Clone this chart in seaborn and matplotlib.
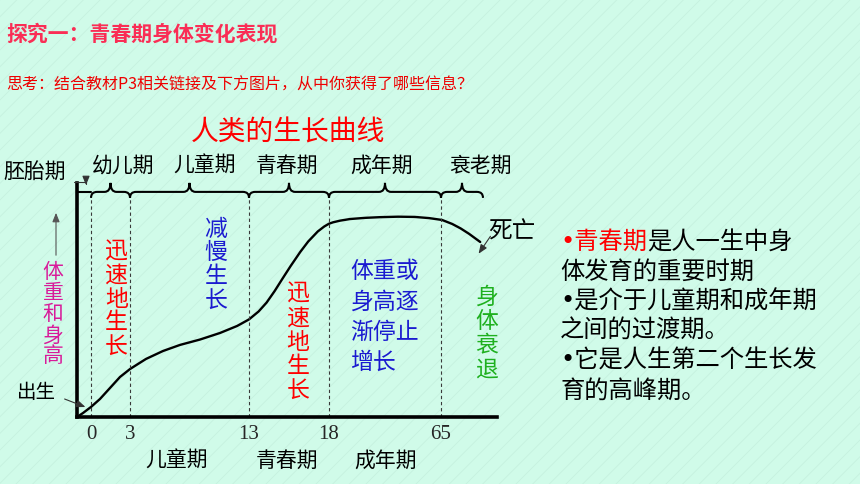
import numpy as np
import matplotlib
matplotlib.use("Agg")
import matplotlib.pyplot as plt
import seaborn as sns
from matplotlib.path import Path
from matplotlib.patches import PathPatch, Rectangle
from matplotlib.transforms import IdentityTransform

# ---- data ----
curve_age = [-1, -0.57, 0, 0.69, 1.46, 2.23, 3, 4.34, 5.77, 7.2, 8.88, 10.56, 12.0,
             13.0, 13.6, 14.1, 14.6, 15.1, 15.6, 16.2, 16.7, 17.3, 17.7, 18.0, 19.7,
             22.6, 26.8, 33.1, 39.4, 47, 54, 60, 65.4, 69, 72, 75, 79]
curve_growth = [0, 1.7, 4.3, 7.7, 12.4, 17.1, 20.5, 24.8, 28.2, 30.8, 33.1, 35.9,
                38.9, 41.7, 45.1, 48.9, 53.8, 59.2, 64.5, 70.5, 75.0, 79.3, 81.4,
                82.6, 83.2, 83.9, 84.6, 85.1, 85.4, 85.6, 85.5, 85, 84.2, 82.5,
                80.6, 78.3, 74.8]

tick_ages = [0, 3, 13, 18, 65]
tick_labels = ["0", "3", "13", "18", "65"]

stage_spans = [(0, 3), (3, 13), (13, 18), (18, 65), (65, 80)]
stage_names = ["幼儿期", "儿童期", "青春期", "成年期", "衰老期"]
bottom_stages = ["儿童期", "青春期", "成年期"]

notes = ["是人一生中身", "体发育的重要时期", "•是介于儿童期和成年期",
         "之间的过渡期。", "•它是人生第二个生长发", "育的高峰期。"]

# non-linear age axis (as in the drawing)
AGE_KNOTS = [-1, 0, 3, 13, 18, 65, 85]
POS_KNOTS = [0, 14, 53, 172, 252, 364, 420]


def fwd(a):
    return np.interp(a, AGE_KNOTS, POS_KNOTS)


def inv(p):
    return np.interp(p, POS_KNOTS, AGE_KNOTS)


sns.set_theme(style="white")
plt.rcParams['font.family'] = ['Noto Sans CJK SC', 'DejaVu Sans']
plt.rcParams['hatch.linewidth'] = 0.5
BULLET_FONT = ['DejaVu Sans', 'Noto Sans CJK SC']

W, H = 860, 484
BG = "#d0fbe9"
fig = plt.figure(figsize=(W / 100, H / 100), dpi=100)
fig.patch.set_facecolor(BG)
fig.patches.append(Rectangle((0, 0), 1, 1, transform=fig.transFigure, facecolor=BG,
                             edgecolor="#c4efdd", hatch="//", lw=0, zorder=-10))


def ftext(x, y, s, **kw):
    return fig.text(x / W, 1 - y / H, s, **kw)


def vtext(x, y0, pitch, s, color, size):
    for i, ch in enumerate(s):
        ftext(x, y0 + i * pitch, ch, ha="center", va="center", color=color, fontsize=size)


def farrow(x0, y0, x1, y1, **kw):
    props = dict(arrowstyle="-|>,head_length=0.45,head_width=0.18", color="#333333", lw=0.8)
    props.update(kw)
    ax.annotate("", xy=(x1 / W, 1 - y1 / H), xycoords="figure fraction",
                xytext=(x0 / W, 1 - y0 / H), textcoords="figure fraction",
                arrowprops=props, annotation_clip=False)


ax = fig.add_axes([77 / W, 1 - 417 / H, 420 / W, 234 / H])
ax.patch.set_alpha(0)
ax.set_xscale("function", functions=(fwd, inv))
ax.set_xlim(-1, 85)
ax.set_ylim(0, 100)

sns.lineplot(x=curve_age, y=curve_growth, color="black", lw=1.7, sort=False, ax=ax)
ax.vlines(tick_ages, 0, 94.9, colors="#3a3a3a", linestyles=(0, (3, 2.5)), lw=0.8)

for side in ["top", "right"]:
    ax.spines[side].set_visible(False)
for side in ["left", "bottom"]:
    ax.spines[side].set_linewidth(2.6)
    ax.spines[side].set_color("black")
ax.set_yticks([])
ax.set_xticks(tick_ages)
ax.set_xticklabels(tick_labels, fontfamily="Liberation Serif", fontsize=15)
ax.tick_params(axis="x", length=0, pad=6)
ax.set_xlabel("")
ax.set_ylabel("")


# braces above the stages
def brace(a0, a1, yval, up=9, down=6, r=6):
    x0, yb = ax.transData.transform((a0, yval))
    x1, _ = ax.transData.transform((a1, yval))
    xm = (x0 + x1) / 2
    verts = [(x0, yb - down), (x0, yb), (x0 + r, yb),
             (xm - r, yb), (xm, yb), (xm, yb + up),
             (xm, yb), (xm + r, yb),
             (x1 - r, yb), (x1, yb), (x1, yb - down)]
    codes = [Path.MOVETO, Path.CURVE3, Path.CURVE3,
             Path.LINETO, Path.CURVE3, Path.CURVE3,
             Path.CURVE3, Path.CURVE3,
             Path.LINETO, Path.CURVE3, Path.CURVE3]
    fig.add_artist(PathPatch(Path(verts, codes), transform=IdentityTransform(),
                             fill=False, lw=1.5, color="black"))


for a0, a1 in stage_spans:
    brace(a0, a1, 96.2)
ax.plot([-1, 0], [96.2, 96.2], color="black", lw=1.5, clip_on=False)

# titles
ftext(6, 34, "探究一：青春期身体变化表现", fontsize=15, weight="bold", color="#fa2d55",
      va="center", ha="left")
ftext(6, 85, "思考：结合教材P3相关链接及下方图片，从中你获得了哪些信息？", fontsize=11.5,
      color="#ee0000", va="center", ha="left")
ftext(288, 133, "人类的生长曲线", fontsize=20, color="#ff0000", va="center", ha="center")

# stage labels
ftext(35, 172, "胚胎期", fontsize=15, color="black", va="center", ha="center")
for name, x in zip(stage_names, [123, 205, 287, 382, 481]):
    ftext(x, 166, name, fontsize=15, color="black", va="center", ha="center")
for name, x in zip(bottom_stages, [177, 287, 386]):
    ftext(x, 461, name, fontsize=15, color="black", va="center", ha="center")

ax.annotate("", xy=(86 / W, 1 - 188 / H), xycoords="figure fraction",
            xytext=(71 / W, 1 - 182 / H), textcoords="figure fraction",
            arrowprops=dict(arrowstyle="-|>,head_length=0.45,head_width=0.18",
                            color="#333333", lw=0.8,
                            connectionstyle="angle,angleA=0,angleB=90,rad=0"),
            annotation_clip=False)

# y label
farrow(56, 258, 56, 210, color="#555555")
vtext(53, 272.5, 21, "体重和身高", "#d81b9a", 15)

ftext(36, 393, "出生", fontsize=14, color="black", va="center", ha="center")
farrow(62, 398, 88, 408)

ftext(488, 232, "死亡", fontsize=17, color="black", va="center", ha="left")
farrow(492, 234, 477, 256)

# stage notes inside the chart
vtext(116.5, 251.8, 23.6, "迅速地生长", "#ff0000", 16.5)
vtext(216, 229, 23.75, "减慢生长", "#1a1ad0", 16.5)
vtext(298, 294, 24.2, "迅速地生长", "#ff0000", 16.5)
vtext(486.5, 297, 24.5, "身体衰退", "#1fb01f", 16.5)
for i, line in enumerate(["体重或", "身高逐", "渐停止", "增长"]):
    ftext(350, 272 + i * 30, line, fontsize=16.5, color="#1a1ad0", va="center", ha="left")

# right-hand text block
t1 = ftext(560, 242, "•青春期", fontsize=17.5, color="#ff0000", va="center", ha="left",
           family=BULLET_FONT)
ax.annotate(notes[0], xy=(1, 0.5), xycoords=t1, va="center", ha="left",
            fontsize=17.5, color="black", annotation_clip=False)
for i, line in enumerate(notes[1:]):
    ftext(560, 271.5 + i * 29.8, line, fontsize=17.5, color="black", va="center", ha="left",
          family=BULLET_FONT)

fig.savefig("out.png", dpi=100, facecolor=BG)
